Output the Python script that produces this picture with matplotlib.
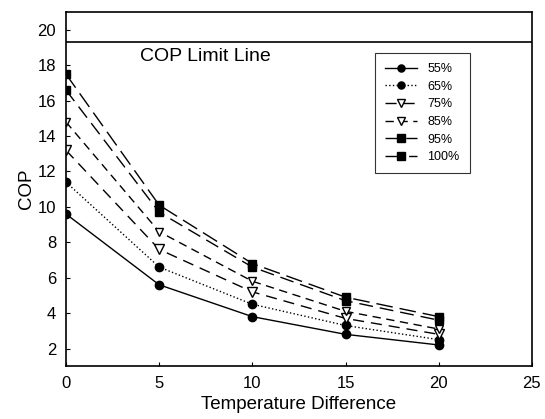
import matplotlib
matplotlib.use("Agg")
import matplotlib.pyplot as plt

plt.rcParams['font.family'] = ['Liberation Sans', 'DejaVu Sans']

temp_diff = [0, 5, 10, 15, 20]
cop_55 = [9.6, 5.6, 3.8, 2.8, 2.2]
cop_65 = [11.4, 6.6, 4.5, 3.3, 2.5]
cop_75 = [13.2, 7.6, 5.2, 3.7, 2.8]
cop_85 = [14.8, 8.6, 5.8, 4.1, 3.1]
cop_95 = [16.6, 9.7, 6.6, 4.7, 3.6]
cop_100 = [17.5, 10.1, 6.8, 4.9, 3.8]
labels = ['55%', '65%', '75%', '85%', '95%', '100%']
cop_limit = 19.3

fig = plt.figure(figsize=(5.45, 4.19), dpi=100)
ax = fig.add_axes([0.121, 0.126, 0.855, 0.845])

ax.plot(temp_diff, cop_55, '-', color='black', lw=1, marker='o', ms=6, label=labels[0])
ax.plot(temp_diff, cop_65, ':', color='black', lw=1, marker='o', ms=6, label=labels[1])
ax.plot(temp_diff, cop_75, '--', color='black', lw=1, dashes=(8, 5), marker='v',
        ms=7, mfc='white', label=labels[2])
ax.plot(temp_diff, cop_85, '--', color='black', lw=1, dashes=(6, 4), marker='v',
        ms=6, mfc='white', label=labels[3])
ax.plot(temp_diff, cop_95, '--', color='black', lw=1, dashes=(10, 5), marker='s',
        ms=6, label=labels[4])
ax.plot(temp_diff, cop_100, '--', color='black', lw=1, dashes=(12, 5), marker='s',
        ms=6, label=labels[5])

ax.axhline(cop_limit, color='black', lw=1.2)
ax.text(3.95, 18.25, 'COP Limit Line', fontsize=14)

ax.set_xlim(0, 25)
ax.set_ylim(1, 21)
ax.set_xticks([0, 5, 10, 15, 20, 25])
ax.set_yticks([2, 4, 6, 8, 10, 12, 14, 16, 18, 20])
ax.tick_params(labelsize=12, length=3, direction='in', pad=7)
ax.set_xlabel('Temperature Difference', fontsize=13.5, labelpad=4)
ax.set_ylabel('COP', fontsize=13.5, labelpad=2)
for s in ax.spines.values():
    s.set_linewidth(1.2)

leg = ax.legend(loc='upper left', bbox_to_anchor=(0.663, 0.884), borderaxespad=0,
                fontsize=9, frameon=True, fancybox=False, edgecolor='black',
                handlelength=2.6, labelspacing=0.45, borderpad=0.8, markerscale=0.85)
leg.get_frame().set_linewidth(0.8)

fig.savefig('out.png', dpi=100)
